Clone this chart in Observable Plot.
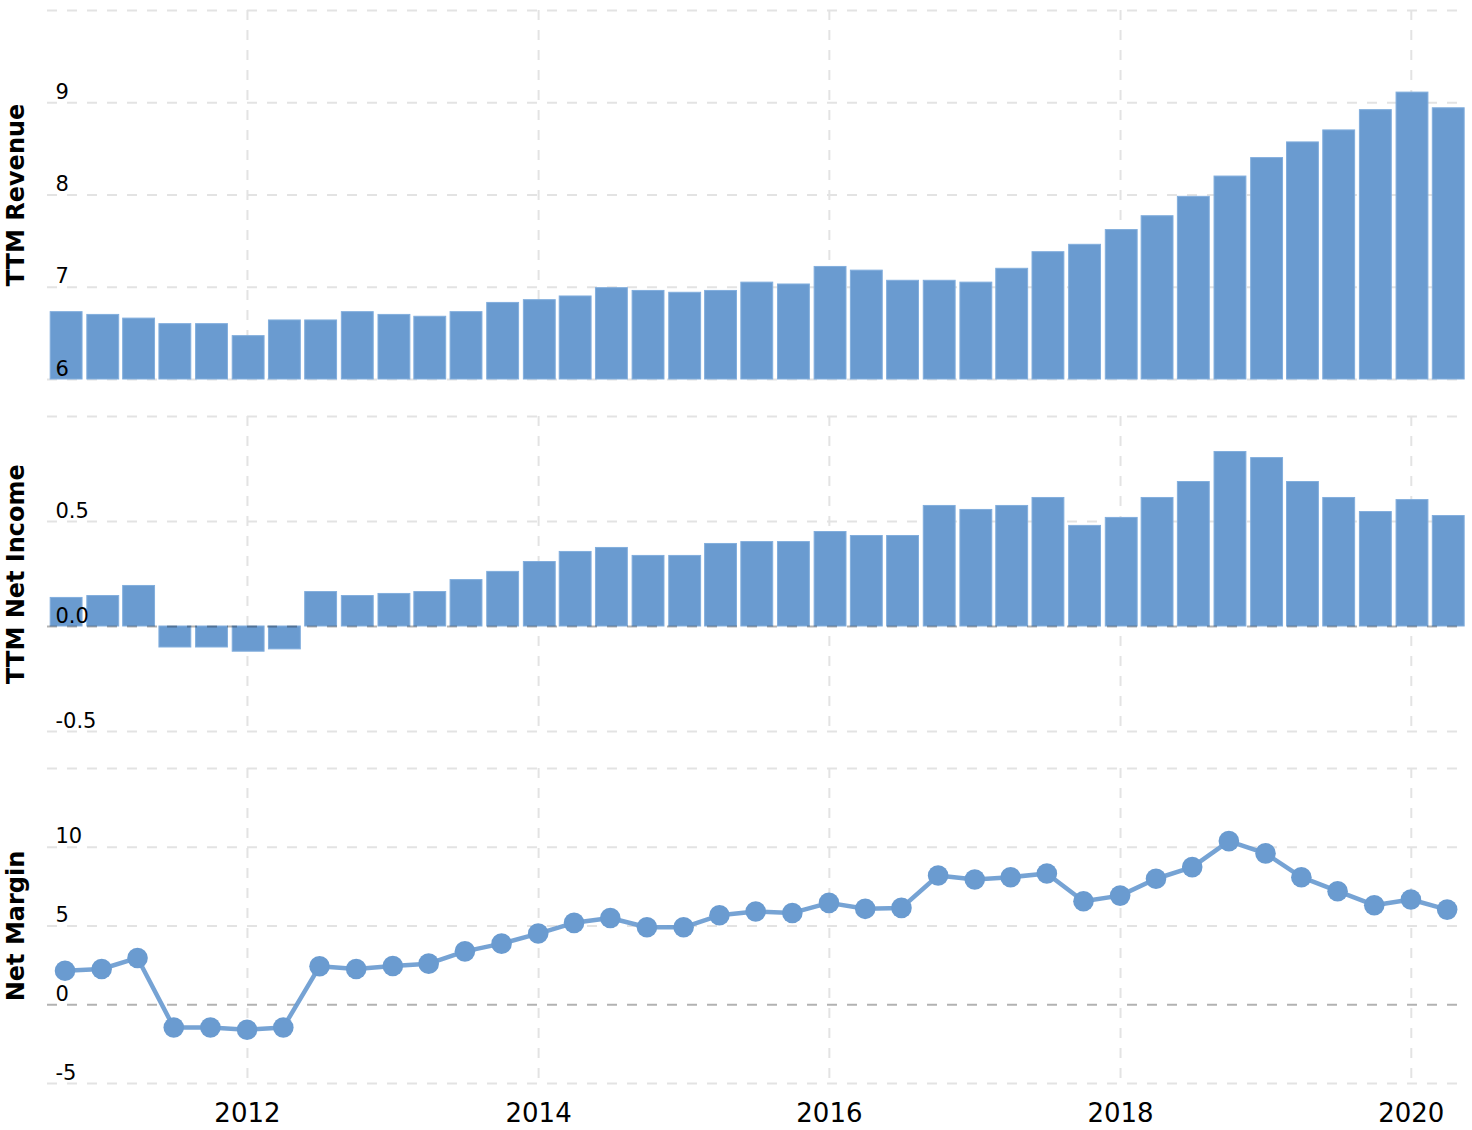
<!DOCTYPE html>
<html>
<head>
<meta charset="utf-8">
<script src="https://cdn.jsdelivr.net/npm/d3@7"></script>
<script src="https://cdn.jsdelivr.net/npm/@observablehq/plot@0.6"></script>
<style>
  html, body { margin: 0; padding: 0; background: #fff; }
  #chart svg { display: block; }
</style>
</head>
<body>
<div id="chart"></div>
<script>
const quarters = [
  "2010-09-30","2010-12-31",
  "2011-03-31","2011-06-30","2011-09-30","2011-12-31",
  "2012-03-31","2012-06-30","2012-09-30","2012-12-31",
  "2013-03-31","2013-06-30","2013-09-30","2013-12-31",
  "2014-03-31","2014-06-30","2014-09-30","2014-12-31",
  "2015-03-31","2015-06-30","2015-09-30","2015-12-31",
  "2016-03-31","2016-06-30","2016-09-30","2016-12-31",
  "2017-03-31","2017-06-30","2017-09-30","2017-12-31",
  "2018-03-31","2018-06-30","2018-09-30","2018-12-31",
  "2019-03-31","2019-06-30","2019-09-30","2019-12-31",
  "2020-03-31"
];
const revenue = [6.73,6.70,6.66,6.60,6.60,6.47,6.64,6.64,6.73,6.70,
  6.68,6.73,6.83,6.86,6.90,6.99,6.96,6.94,6.96,7.05,
  7.03,7.22,7.18,7.07,7.07,7.05,7.20,7.38,7.46,7.62,
  7.77,7.98,8.20,8.40,8.57,8.70,8.92,9.11,8.94];
const netIncome = [0.136,0.145,0.193,-0.10,-0.10,-0.12,-0.109,0.164,0.145,0.155,
  0.164,0.221,0.26,0.307,0.355,0.374,0.336,0.336,0.393,0.402,
  0.402,0.45,0.431,0.431,0.574,0.555,0.574,0.612,0.479,0.517,
  0.612,0.688,0.831,0.802,0.688,0.612,0.545,0.602,0.526];
const netMargin = [2.16,2.27,2.97,-1.44,-1.44,-1.59,-1.44,2.44,2.27,2.46,
  2.61,3.39,3.88,4.52,5.2,5.51,4.92,4.92,5.68,5.92,
  5.83,6.47,6.09,6.15,8.21,7.95,8.10,8.33,6.57,6.93,
  8.0,8.74,10.39,9.61,8.1,7.21,6.32,6.68,6.04];

const yearTicks = ["2012-01-01","2014-01-01","2016-01-01","2018-01-01","2020-01-01"];
const xDomain = ["2010-08-17","2020-04-26"];

const revGrid = [6,7,8,9,10];
const revTicks = [6,7,8,9];
const revTickLabels = ["6","7","8","9"];
const niGrid = [-0.5,0,0.5,1.0];
const niTicks = [-0.5,0,0.5];
const niTickLabels = ["-0.5","0.0","0.5"];
const nmGrid = [-5,0,5,10,15];
const nmTicks = [-5,0,5,10];
const nmTickLabels = ["-5","0","5","10"];

const BLUE = "#6a9bd0";
const GRID = "#e3e3e3";
const FONT = "DejaVu Sans, Verdana, sans-serif";

const parse = d3.utcParse("%Y-%m-%d");
const dates = quarters.map(parse);
const years = yearTicks.map(parse);
const rows = dates.map((d, i) => ({
  date: d,
  x1: d3.utcDay.offset(d, -36),
  x2: d3.utcDay.offset(d, 44),
  revenue: revenue[i],
  netIncome: netIncome[i],
  netMargin: netMargin[i]
}));

function baseMarks(grid, ticks, labels, title) {
  return {
    grid: [
      Plot.ruleY(grid, {stroke: GRID, strokeWidth: 2, strokeDasharray: "10,10"}),
      Plot.ruleX(years, {stroke: GRID, strokeWidth: 2, strokeDasharray: "10,10"})
    ],
    labels: [
      Plot.text(ticks, {y: d => d, text: (d, i) => labels[i], frameAnchor: "left",
        textAnchor: "start", lineAnchor: "bottom", dx: 8, dy: -4, fontSize: 21, fill: "#000"}),
      Plot.text([title], {frameAnchor: "left", text: d => d, rotate: -90, textAnchor: "middle",
        lineAnchor: "bottom", dx: -24, fontSize: 24, fontWeight: "bold", fill: "#000"})
    ]
  };
}

const common = {
  width: 1472,
  marginLeft: 47,
  marginRight: 15,
  style: {fontFamily: FONT, background: "#fff", overflow: "visible"},
  x: {type: "utc", domain: xDomain.map(parse), axis: null}
};

// Panel 1: TTM Revenue
const b1 = baseMarks(revGrid, revTicks, revTickLabels, "TTM Revenue");
const p1 = Plot.plot({
  ...common,
  height: 398, marginTop: 10, marginBottom: 19,
  y: {domain: [6, 10], axis: null},
  marks: [
    ...b1.grid,
    Plot.rectY(rows, {x1: "x1", x2: "x2", y1: 6, y2: "revenue", fill: BLUE, stroke: "#82aedd", strokeWidth: 1}),
    ...b1.labels
  ]
});

// Panel 2: TTM Net Income
const b2 = baseMarks(niGrid.filter(v => v !== 0), niTicks, niTickLabels, "TTM Net Income");
const p2 = Plot.plot({
  ...common,
  height: 352, marginTop: 18, marginBottom: 19,
  y: {domain: [-0.5, 1.0], axis: null},
  marks: [
    ...b2.grid,
    Plot.rectY(rows, {x1: "x1", x2: "x2", y1: 0, y2: "netIncome", fill: BLUE, stroke: "#82aedd", strokeWidth: 1}),
    Plot.ruleY([0], {stroke: "#000", strokeOpacity: 0.3, strokeWidth: 2, strokeDasharray: "10,10"}),
    ...b2.labels
  ]
});

// Panel 3: Net Margin
const b3 = baseMarks(nmGrid.filter(v => v !== 0), nmTicks, nmTickLabels, "Net Margin");
const p3 = Plot.plot({
  ...common,
  height: 380, marginTop: 18, marginBottom: 47,
  y: {domain: [-5, 15], axis: null},
  marks: [
    ...b3.grid,
    Plot.ruleY([0], {stroke: "#000", strokeOpacity: 0.3, strokeWidth: 2, strokeDasharray: "10,10"}),
    Plot.lineY(rows, {x: "date", y: "netMargin", stroke: BLUE, strokeOpacity: 0.92, strokeWidth: 4.5}),
    Plot.dot(rows, {x: "date", y: "netMargin", r: 10.3, fill: BLUE, stroke: "none"}),
    Plot.axisX(years, {tickSize: 0, tickPadding: 20, tickFormat: d3.utcFormat("%Y"), fontSize: 26, fill: "#000", label: null}),
    ...b3.labels
  ]
});

const chart = document.getElementById("chart");
chart.append(p1, p2, p3);
</script>
</body>
</html>
